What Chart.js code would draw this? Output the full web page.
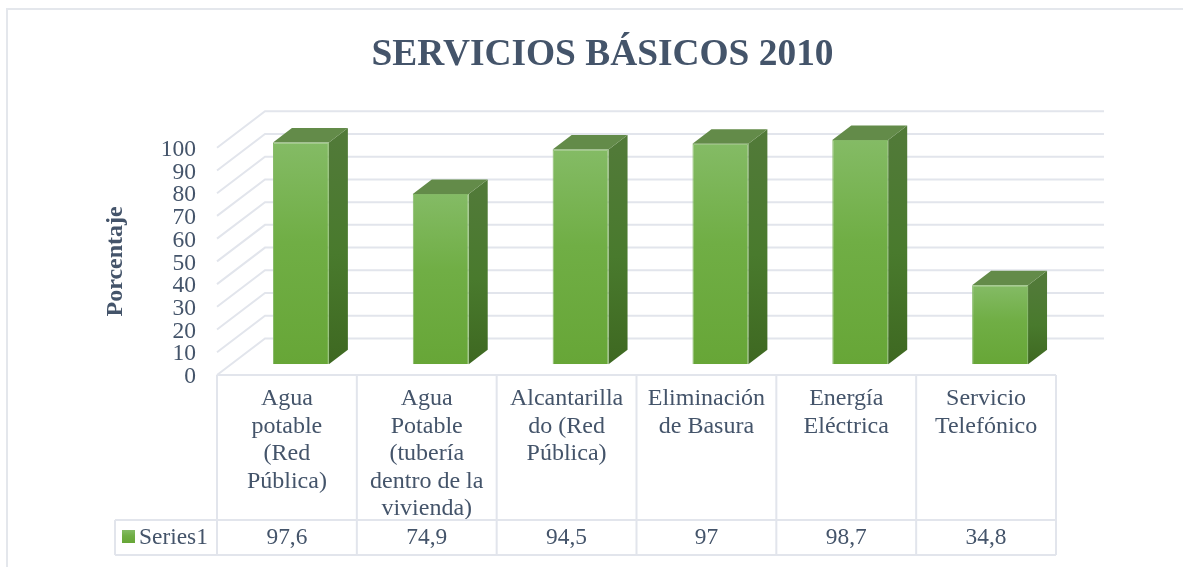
<!DOCTYPE html>
<html lang="es">
<head>
<meta charset="utf-8">
<title>Servicios básicos 2010</title>
<script src="https://cdn.jsdelivr.net/npm/chart.js@4/dist/chart.umd.min.js"></script>
<style>
html,body{margin:0;padding:0;background:#fff;overflow:hidden;}
#frame{position:absolute;left:6px;top:8px;width:1177px;height:559px;border-top:2px solid #e4e7ec;border-left:2px solid #e4e7ec;box-sizing:border-box;}
canvas{position:absolute;left:0;top:0;}
</style>
</head>
<body>
<div id="frame"></div>
<canvas id="c" width="1183" height="567"></canvas>
<script>
const categories = [
  ["Agua", "potable", "(Red", "Pública)"],
  ["Agua", "Potable", "(tubería", "dentro de la", "vivienda)"],
  ["Alcantarilla", "do (Red", "Pública)"],
  ["Eliminación", "de Basura"],
  ["Energía", "Eléctrica"],
  ["Servicio", "Telefónico"]
];
const seriesName = "Series1";
const seriesValues = [97.6, 74.9, 94.5, 97, 98.7, 34.8];
const valueLabels = ["97,6", "74,9", "94,5", "97", "98,7", "34,8"];
const titleText = "SERVICIOS BÁSICOS 2010";
const yAxisTitle = "Porcentaje";
const yTicks = [0, 10, 20, 30, 40, 50, 60, 70, 80, 90, 100];

const TEXT = "#44546a", LINE = "#e2e5ec", SERIF = "'Liberation Serif','Times New Roman',serif";
const BACK = {dx: 48, dy: -36.5};      // depth of the floor / wall
const BAR_FRONT = {dx: 14, dy: -10.7}; // bar front plane
const BAR_BACK = {dx: 33, dy: -25.2};  // bar back plane

function frontGradient(ctx, top, bottom) {
  const g = ctx.createLinearGradient(0, top, 0, bottom);
  g.addColorStop(0, "#84bb65"); g.addColorStop(0.45, "#70ae45"); g.addColorStop(1, "#67a637");
  return g;
}

const scene3d = {
  id: "scene3d",
  beforeDatasetsDraw(chart) {
    const {ctx, scales: {y}, chartArea: a} = chart;
    ctx.save();
    ctx.strokeStyle = LINE; ctx.lineWidth = 2;
    y.ticks.forEach((t, i) => {
      const py = y.getPixelForTick(i);
      ctx.beginPath();
      ctx.moveTo(a.left, py);
      ctx.lineTo(a.left + BACK.dx, py + BACK.dy);
      ctx.lineTo(a.right + BACK.dx, py + BACK.dy);
      ctx.stroke();
    });
    ctx.restore();
    // side and top faces
    const depthX = BAR_BACK.dx - BAR_FRONT.dx, depthY = BAR_BACK.dy - BAR_FRONT.dy;
    ctx.save();
    ctx.translate(BAR_FRONT.dx, BAR_FRONT.dy);
    chart.getDatasetMeta(0).data.forEach(bar => {
      const l = bar.x - bar.width / 2, r = bar.x + bar.width / 2, t = bar.y, b = bar.base;
      const sg = ctx.createLinearGradient(0, t, 0, b);
      sg.addColorStop(0, "#517a38"); sg.addColorStop(0.5, "#497a2d"); sg.addColorStop(1, "#3e6821");
      ctx.fillStyle = sg;
      ctx.beginPath();
      ctx.moveTo(r, t); ctx.lineTo(r + depthX, t + depthY); ctx.lineTo(r + depthX, b + depthY); ctx.lineTo(r, b);
      ctx.closePath(); ctx.fill();
      ctx.fillStyle = "#638b49";
      ctx.beginPath();
      ctx.moveTo(l, t); ctx.lineTo(l + depthX, t + depthY); ctx.lineTo(r + depthX, t + depthY); ctx.lineTo(r, t);
      ctx.closePath(); ctx.fill();
    });
    ctx.restore();
    ctx.save();
    ctx.translate(BAR_FRONT.dx, BAR_FRONT.dy);
  },
  afterDatasetsDraw(chart) { chart.ctx.restore(); },
  afterDraw(chart) {
    const {ctx, scales: {x}, chartArea: a} = chart;
    const tableTop = a.bottom, rowTop = 520, rowBottom = 555, legendLeft = 115;
    const edges = categories.map((_, i) => a.left + i * (a.width / categories.length)).concat(a.right);
    ctx.save();
    ctx.strokeStyle = LINE; ctx.lineWidth = 2;
    ctx.beginPath();
    ctx.moveTo(a.left, tableTop); ctx.lineTo(a.right, tableTop);
    ctx.moveTo(legendLeft, rowTop); ctx.lineTo(a.right, rowTop);
    ctx.moveTo(legendLeft, rowBottom); ctx.lineTo(a.right, rowBottom);
    ctx.moveTo(legendLeft, rowTop); ctx.lineTo(legendLeft, rowBottom);
    edges.forEach(e => { ctx.moveTo(e, tableTop); ctx.lineTo(e, rowBottom); });
    ctx.stroke();
    ctx.font = "23.4px " + SERIF; ctx.fillStyle = TEXT;
    ctx.textBaseline = "middle"; ctx.textAlign = "center";
    valueLabels.forEach((v, i) => ctx.fillText(v, x.getPixelForTick(i), 538));
    ctx.textAlign = "left";
    ctx.fillText(seriesName, 139, 538);
    ctx.fillStyle = frontGradient(ctx, 530, 543);
    ctx.fillRect(122, 530, 13, 13);
    ctx.restore();
  }
};

new Chart(document.getElementById("c"), {
  type: "bar",
  data: {
    labels: categories,
    datasets: [{
      label: seriesName,
      data: seriesValues,
      yAxisID: "y",
      barPercentage: 0.4,
      categoryPercentage: 1,
      borderWidth: 1,
      borderColor: "#84b866",
      backgroundColor(ctx) {
        const y = ctx.chart.scales.y;
        if (!y || ctx.raw === undefined) return "#70ad47";
        const top = y.getPixelForValue(ctx.raw), bottom = y.getPixelForValue(0);
        if (!isFinite(top) || !isFinite(bottom)) return "#70ad47";
        return frontGradient(ctx.chart.ctx, top, bottom);
      }
    }]
  },
  options: {
    responsive: false,
    animation: false,
    layout: {padding: {left: 22, right: 0, top: 0, bottom: 0}},
    plugins: {
      legend: {display: false},
      tooltip: {enabled: false},
      title: {
        display: true, text: titleText, color: TEXT,
        font: {family: SERIF, size: 37.4, weight: "bold", lineHeight: 1.1},
        padding: {top: 35, bottom: 71.6}
      }
    },
    scales: {
      x: {
        grid: {display: false}, border: {display: false},
        afterFit(s) { s.height = 192; },
        ticks: {
          autoSkip: false, maxRotation: 0, minRotation: 0, padding: 2, color: TEXT,
          font: {family: SERIF, size: 24, lineHeight: 1.146}
        }
      },
      y: {
        min: 0, max: 100,
        afterFit(s) { s.width = 195; },
        afterBuildTicks(s) { s.ticks = yTicks.map(v => ({value: v})); },
        grid: {display: false}, border: {display: false},
        title: {display: true, text: yAxisTitle, color: TEXT, padding: {top: 79, bottom: 0},
          font: {family: SERIF, size: 24, weight: "bold"}},
        ticks: {padding: 13, labelOffset: 2, autoSkip: false, color: TEXT, font: {family: SERIF, size: 23.5}}
      },
      rightGap: {
        position: "right", min: 0, max: 100,
        afterFit(s) { s.width = 127; },
        grid: {display: false}, border: {display: false},
        ticks: {display: false}
      }
    }
  },
  plugins: [scene3d]
});
</script>
</body>
</html>
